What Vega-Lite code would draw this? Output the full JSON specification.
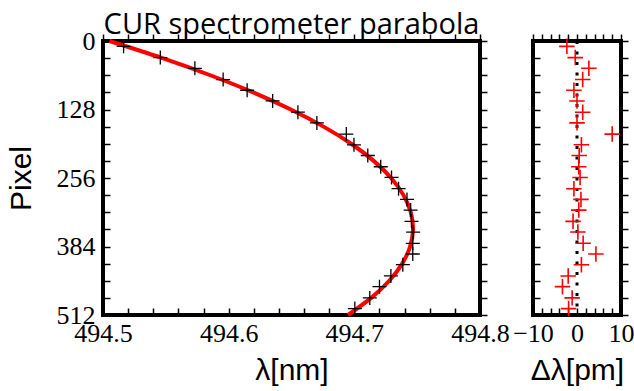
{
  "$schema": "https://vega.github.io/schema/vega-lite/v6.json",
  "background": "white",
  "padding": {"left": 4, "top": 9, "right": 0, "bottom": 0},
  "bounds": "flush",
  "spacing": 53,
  "datasets": {
    "fit": [
      {"p": 0, "lambda": 494.5051}, {"p": 32, "lambda": 494.5473}, {"p": 64, "lambda": 494.5854},
      {"p": 96, "lambda": 494.6195}, {"p": 128, "lambda": 494.6495}, {"p": 160, "lambda": 494.6755},
      {"p": 192, "lambda": 494.6975}, {"p": 224, "lambda": 494.7154}, {"p": 256, "lambda": 494.7293},
      {"p": 288, "lambda": 494.7391}, {"p": 320, "lambda": 494.7449}, {"p": 352, "lambda": 494.7467},
      {"p": 384, "lambda": 494.7444}, {"p": 416, "lambda": 494.7381}, {"p": 448, "lambda": 494.7278},
      {"p": 480, "lambda": 494.7134}, {"p": 512, "lambda": 494.6950}
    ],
    "obs": [
      {"p": 10, "lambda": 494.5164, "resid": -2.3}, {"p": 31, "lambda": 494.5456, "resid": -0.4},
      {"p": 51, "lambda": 494.5731, "resid": 2.7}, {"p": 72, "lambda": 494.5956, "resid": 1.3},
      {"p": 92, "lambda": 494.6147, "resid": -0.7}, {"p": 112, "lambda": 494.6350, "resid": 0.0},
      {"p": 133, "lambda": 494.6551, "resid": 1.3}, {"p": 153, "lambda": 494.6702, "resid": 0.0},
      {"p": 174, "lambda": 494.6936, "resid": 8.0}, {"p": 194, "lambda": 494.6997, "resid": 1.0},
      {"p": 214, "lambda": 494.7107, "resid": 0.5}, {"p": 235, "lambda": 494.7210, "resid": 0.4},
      {"p": 255, "lambda": 494.7296, "resid": 0.7}, {"p": 276, "lambda": 494.7352, "resid": -0.7},
      {"p": 296, "lambda": 494.7419, "resid": 0.9}, {"p": 316, "lambda": 494.7448, "resid": 0.4},
      {"p": 337, "lambda": 494.7455, "resid": -0.9}, {"p": 357, "lambda": 494.7468, "resid": 0.2},
      {"p": 378, "lambda": 494.7465, "resid": 1.4}, {"p": 398, "lambda": 494.7465, "resid": 4.3},
      {"p": 418, "lambda": 494.7386, "resid": 1.0}, {"p": 439, "lambda": 494.7291, "resid": -2.0},
      {"p": 459, "lambda": 494.7200, "resid": -3.3}, {"p": 480, "lambda": 494.7123, "resid": -1.1},
      {"p": 500, "lambda": 494.7004, "resid": -1.9}
    ]
  },
  "hconcat": [
    {
      "width": 377,
      "height": 274,
      "title": {
        "text": "CUR spectrometer parabola",
        "font": "Open Sans",
        "fontSize": 29,
        "fontWeight": "normal",
        "color": "black",
        "anchor": "middle",
        "frame": "group",
        "baseline": "alphabetic",
        "offset": -35
      },
      "resolve": {"axis": {"x": "independent", "y": "independent"}},
      "layer": [
        {
          "data": {"name": "fit"},
          "mark": {"type": "line", "color": "#ff0000", "strokeWidth": 4, "interpolate": "natural"},
          "encoding": {
            "order": {"field": "p", "type": "quantitative"},
            "x": {
              "field": "lambda", "type": "quantitative",
              "scale": {"domain": [494.5, 494.8], "nice": false, "zero": false},
              "axis": {
                "orient": "bottom",
                "values": [494.5, 494.52, 494.54, 494.56, 494.58, 494.6, 494.62, 494.64, 494.66, 494.68, 494.7, 494.72, 494.74, 494.76, 494.78, 494.8],
                "labelExpr": "abs(datum.value * 10 - round(datum.value * 10)) < 0.001 ? format(datum.value, '.1f') : ''",
                "title": "λ[nm]",
                "tickSize": -7,
                "encode": {"ticks": {"update": {"y2": {"signal": "abs(datum.value * 10 - round(datum.value * 10)) < 0.001 ? -7 : -3.5"}}}}
              }
            },
            "y": {
              "field": "p", "type": "quantitative",
              "scale": {"domain": [0, 512], "reverse": true, "nice": false, "zero": false},
              "axis": {
                "orient": "left",
                "values": [0, 32, 64, 96, 128, 160, 192, 224, 256, 288, 320, 352, 384, 416, 448, 480, 512],
                "labelExpr": "datum.value % 128 == 0 ? datum.label : ''",
                "title": "Pixel",
                "tickSize": -7,
                "labelPadding": 15,
                "titleFont": "Liberation Sans",
                "titleFontSize": 30,
                "titleBaseline": "alphabetic",
                "titlePadding": 26,
                "encode": {"ticks": {"update": {"x2": {"signal": "datum.value % 128 == 0 ? 7 : 3.5"}}}}
              }
            }
          }
        },
        {
          "data": {"name": "obs"},
          "mark": {"type": "point", "shape": "M-1,0H1M0,-1V1", "filled": false, "color": "black", "strokeWidth": 1.3, "size": 196, "opacity": 1},
          "encoding": {
            "x": {
              "field": "lambda", "type": "quantitative",
              "axis": {
                "orient": "top",
                "values": [494.5, 494.52, 494.54, 494.56, 494.58, 494.6, 494.62, 494.64, 494.66, 494.68, 494.7, 494.72, 494.74, 494.76, 494.78, 494.8],
                "labels": false,
                "title": null,
                "tickSize": 7,
                "encode": {"ticks": {"update": {"y2": {"signal": "abs(datum.value * 10 - round(datum.value * 10)) < 0.001 ? 7 : 3.5"}}}}
              }
            },
            "y": {
              "field": "p", "type": "quantitative",
              "axis": {
                "orient": "right",
                "values": [0, 32, 64, 96, 128, 160, 192, 224, 256, 288, 320, 352, 384, 416, 448, 480, 512],
                "labels": false,
                "title": null,
                "tickSize": 7,
                "encode": {"ticks": {"update": {"x2": {"signal": "datum.value % 128 == 0 ? -7 : -3.5"}}}}
              }
            }
          }
        }
      ]
    },
    {
      "width": 88,
      "height": 274,
      "resolve": {"axis": {"x": "independent", "y": "independent"}},
      "layer": [
        {
          "data": {"values": [{"zero": 0}]},
          "mark": {"type": "rule", "color": "black", "strokeWidth": 3, "strokeDash": [3, 7.5]},
          "encoding": {
            "x": {"field": "zero", "type": "quantitative", "scale": {"domain": [-10, 10], "nice": false, "zero": false}, "axis": null}
          }
        },
        {
          "data": {"name": "obs"},
          "mark": {"type": "point", "shape": "M-1,0H1M0,-1V1", "filled": false, "color": "#ff0000", "strokeWidth": 1.6, "size": 240, "opacity": 1},
          "encoding": {
            "x": {
              "field": "resid", "type": "quantitative",
              "axis": {
                "orient": "bottom",
                "values": [-10, -8, -6, -4, -2, 0, 2, 4, 6, 8, 10],
                "labelExpr": "datum.value % 10 == 0 ? datum.label : ''",
                "title": "Δλ[pm]",
                "tickSize": -7,
                "encode": {"ticks": {"update": {"y2": {"signal": "datum.value % 10 == 0 ? -7 : -3.5"}}}}
              }
            },
            "y": {
              "field": "p", "type": "quantitative",
              "scale": {"domain": [0, 512], "reverse": true, "nice": false, "zero": false},
              "axis": {
                "orient": "left",
                "values": [0, 32, 64, 96, 128, 160, 192, 224, 256, 288, 320, 352, 384, 416, 448, 480, 512],
                "labels": false,
                "title": null,
                "tickSize": -7,
                "encode": {"ticks": {"update": {"x2": {"signal": "datum.value % 128 == 0 ? 7 : 3.5"}}}}
              }
            }
          }
        },
        {
          "data": {"name": "obs"},
          "mark": {"type": "point", "opacity": 0},
          "encoding": {
            "x": {
              "field": "resid", "type": "quantitative",
              "axis": {
                "orient": "top",
                "values": [-10, -8, -6, -4, -2, 0, 2, 4, 6, 8, 10],
                "labels": false,
                "title": null,
                "tickSize": 7,
                "encode": {"ticks": {"update": {"y2": {"signal": "datum.value % 10 == 0 ? 7 : 3.5"}}}}
              }
            },
            "y": {
              "field": "p", "type": "quantitative",
              "axis": {
                "orient": "right",
                "values": [0, 32, 64, 96, 128, 160, 192, 224, 256, 288, 320, 352, 384, 416, 448, 480, 512],
                "labels": false,
                "title": null,
                "tickSize": 7,
                "encode": {"ticks": {"update": {"x2": {"signal": "datum.value % 128 == 0 ? -7 : -3.5"}}}}
              }
            }
          }
        }
      ]
    }
  ],
  "config": {
    "view": {"stroke": "black", "strokeWidth": 4},
    "axis": {
      "domain": false,
      "grid": false,
      "tickColor": "black",
      "tickWidth": 1.5,
      "labelFont": "Liberation Serif",
      "labelFontSize": 26,
      "labelColor": "black",
      "labelPadding": 12,
      "labelFlush": false,
      "labelOverlap": false,
      "titleFont": "Liberation Sans",
      "titleFontSize": 30,
      "titleFontWeight": "normal",
      "titleColor": "black",
      "titlePadding": 9
    }
  }
}
